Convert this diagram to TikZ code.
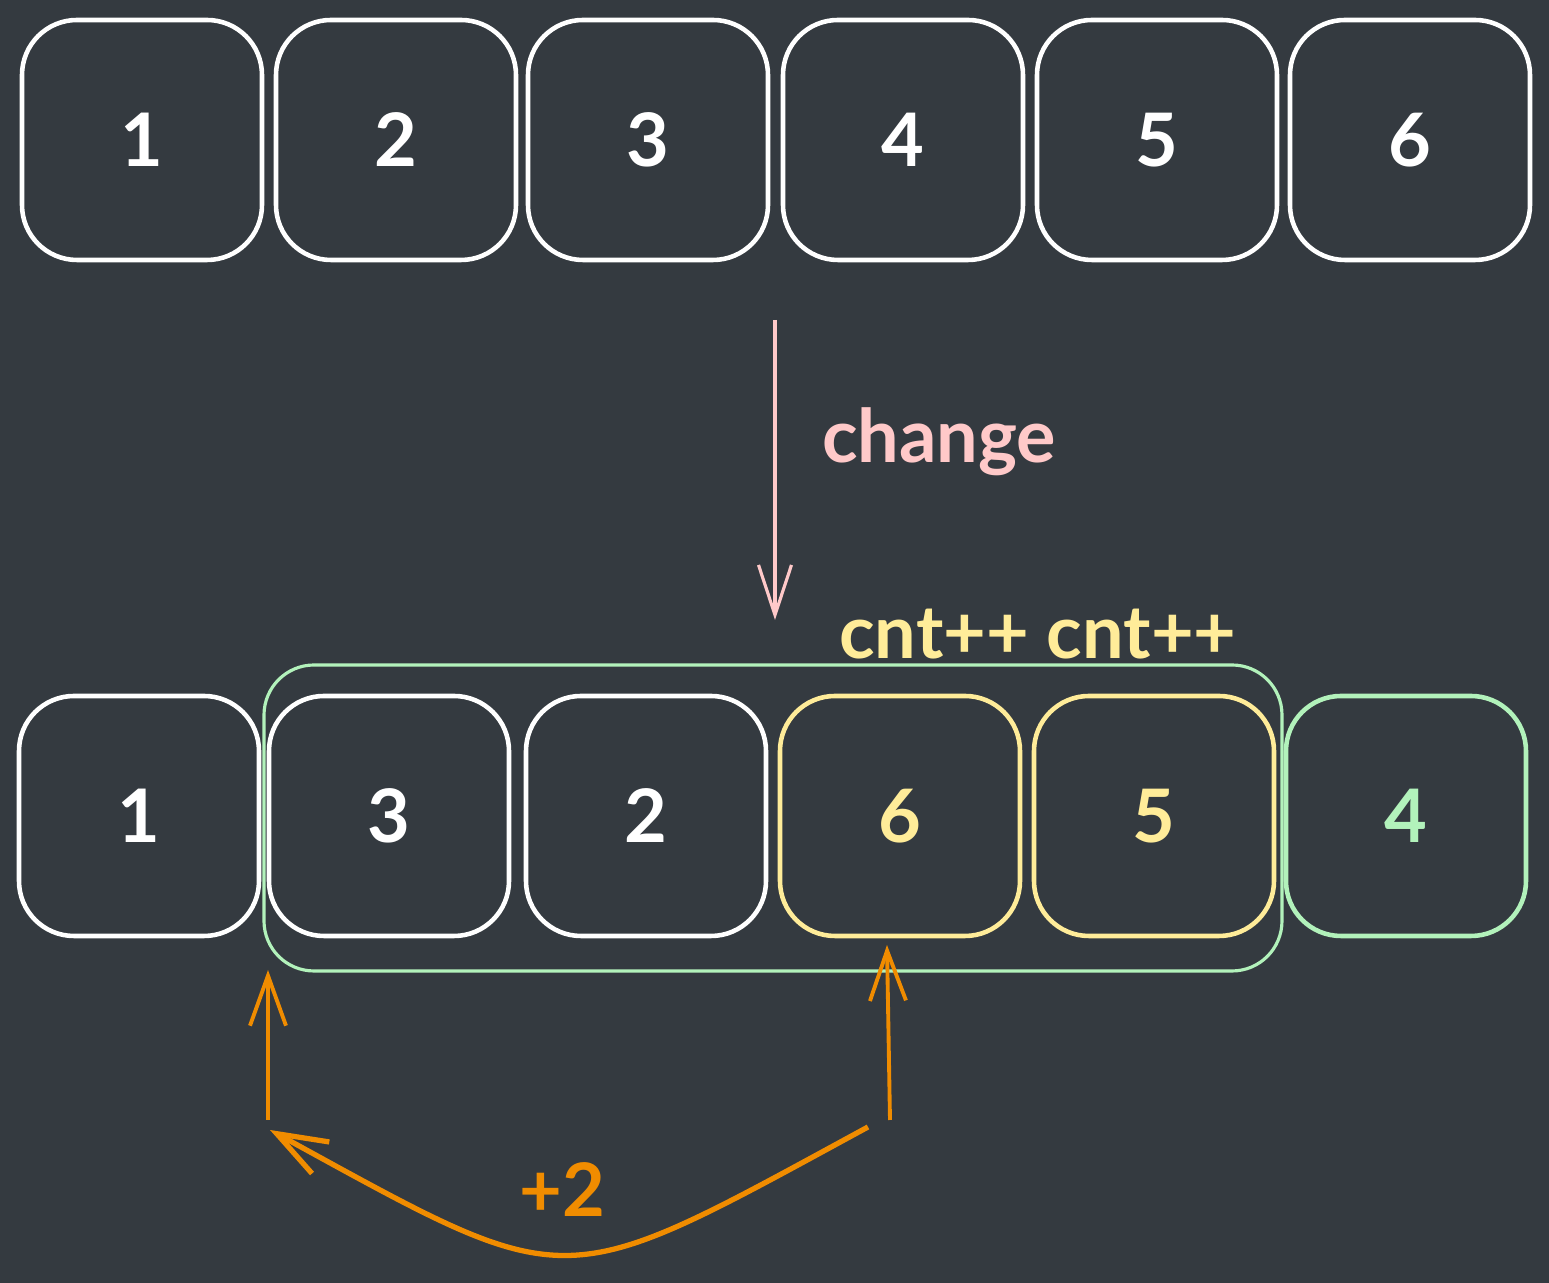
\documentclass[tikz,border=0pt]{standalone}
\usepackage{fontspec}
\setmainfont{Lato}
\usetikzlibrary{positioning,arrows.meta}
\definecolor{monFond}{RGB}{52,58,64}
\definecolor{monRose}{RGB}{255,201,201}
\definecolor{monJaune}{RGB}{255,236,153}
\definecolor{monVert}{RGB}{178,242,187}
\definecolor{monOrange}{RGB}{240,140,0}
\tikzset{
  case/.style={draw=#1, text=#1, line width=1.3pt, rounded corners=0.55cm,
    minimum width=2.4cm, minimum height=2.4cm, font=\bfseries\fontsize{21}{24}\selectfont},
  case/.default=white,
  fleche/.style={-{Straight Barb[length=5mm,width=3.6mm]}, line width=1.1pt, color=monOrange},
  etiq/.style={font=\bfseries\fontsize{21}{24}\selectfont}
}
\begin{document}
\begin{tikzpicture}
        % Fond
        \useasboundingbox (0,0) rectangle (15.49,-12.83);
        \fill[monFond] (0,0) rectangle (15.49,-12.83);

        % Tableau initial
        \foreach \i/\x in {1/1.42, 2/3.96, 3/6.48, 4/9.03, 5/11.57, 6/14.10}
          \node[case] (t\i) at (\x,-1.40) {\i};

        % Fleche change
        \coordinate (chgA) at (7.75,-3.20);
        \coordinate (chgB) at (7.75,-6.20);
        \draw[-{Straight Barb[length=5mm,width=3.3mm]}, monRose, line width=0.9pt] (chgA) -- (chgB);
        \node[etiq, monRose] (chg) at (9.39,-4.42) {change};

        % Tableau modifie
        \node[minimum width=10.18cm, minimum height=3.06cm, draw=monVert, line width=0.9pt,
              rounded corners=0.5cm] (grp) at (7.73,-8.18) {};
        \foreach \i/\x/\v/\c in {1/1.39/1/white, 2/3.89/3/white, 3/6.46/2/white,
                                 4/9.00/6/monJaune, 5/11.54/5/monJaune, 6/14.06/4/monVert}
          \node[case=\c] (b\i) at (\x,-8.16) {\v};
        \node[etiq, monJaune] (cnt) at (10.38,-6.34) {cnt++ cnt++};

        % Fleches orange
        \coordinate (gBas) at (2.68,-11.20);
        \coordinate (gHaut) at (2.68,-9.70);
        \coordinate (dBas) at (8.90,-11.20);
        \coordinate (dHaut) at (8.87,-9.45);
        \coordinate (cDep) at (8.68,-11.27);
        \coordinate (cArr) at (2.70,-11.30);
        \draw[fleche] (gBas) -- (gHaut);
        \draw[fleche] (dBas) -- (dHaut);
        \draw[fleche, line width=1.5pt] (cDep) .. controls (5.55,-12.97) and (5.75,-12.97) .. (cArr);
        \node[etiq, monOrange] (plus) at (5.62,-11.90) {+2};
\end{tikzpicture}
\end{document}
